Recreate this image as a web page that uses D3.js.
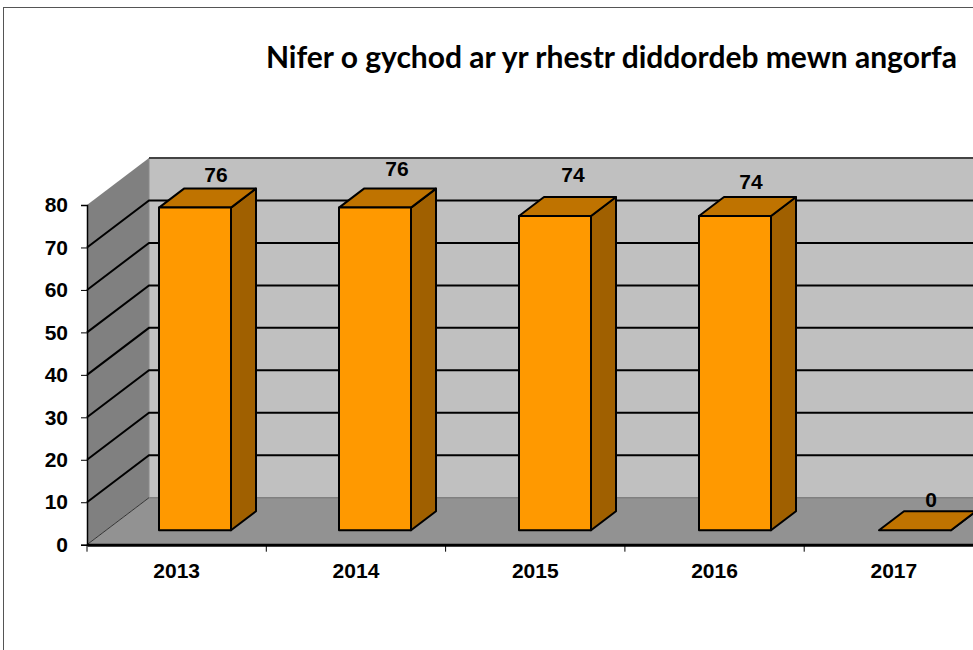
<!DOCTYPE html>
<html><head><meta charset="utf-8">
<script src="https://cdn.jsdelivr.net/npm/d3@7"></script>
<style>html,body{margin:0;padding:0;background:#fff;overflow:hidden}svg{display:block}</style></head>
<body><script>
const titleText = "Nifer o gychod ar yr rhestr diddordeb mewn angorfa";
const years = ["2013","2014","2015","2016","2017"];
const boats = [76,76,74,74,0];
const yTicks = [0,10,20,30,40,50,60,70,80];
const labelNudgeX = [0,1,-3,-5,-5];
const labelNudgeY = [1,-5,-7,0,4];

const W=973,H=650;
const svg=d3.select("body").append("svg").attr("width",W).attr("height",H);
const x=d3.scaleBand().domain(years).range([87,983.5]);
const xBar=d3.scaleBand().domain(years).range([87,987]);
const y=d3.scaleLinear().domain([0,80]).range([544.7,205]);
const wallDx=62,wallDy=-47, barOffDx=72, barW=72, barBase=-14.4, depthDx=25, depthDy=-19;
const LW="Liberation Sans, Arial, sans-serif";

svg.append("rect").attr("x",3.5).attr("y",7.5).attr("width",W+20).attr("height",H+20).attr("fill","#fff").attr("stroke","#555").attr("stroke-width",1);
svg.append("text").attr("x",611.5).attr("y",68).attr("text-anchor","middle").attr("font-family","Lato, Carlito, sans-serif").attr("font-weight",700).attr("font-size",30).attr("fill","#000").text(titleText);

const x0=x.range()[0], xR=x.range()[1];
const pts=a=>a.map(p=>p.join(",")).join(" ");
// back wall
svg.append("rect").attr("x",x0+wallDx).attr("y",y(80)+wallDy).attr("width",xR-x0).attr("height",y(0)-y(80)).attr("fill","#c0c0c0");
// side wall
svg.append("polygon").attr("points",pts([[x0,y(80)],[x0+wallDx,y(80)+wallDy],[x0+wallDx,y(0)+wallDy],[x0,y(0)]])).attr("fill","#808080");
// floor
svg.append("polygon").attr("points",pts([[x0,y(0)],[x0+wallDx,y(0)+wallDy],[xR+wallDx,y(0)+wallDy],[xR,y(0)]])).attr("fill","#929292");
svg.append("line").attr("x1",x0+wallDx).attr("x2",W+5).attr("y1",y(0)+wallDy).attr("y2",y(0)+wallDy).attr("stroke","#808080").attr("stroke-width",1.5);
svg.append("line").attr("x1",x0+wallDx).attr("x2",x0+wallDx).attr("y1",y(80)+wallDy).attr("y2",y(0)+wallDy).attr("stroke","#8a8a8a").attr("stroke-width",1);
// gridlines
yTicks.filter(t=>t>0&&t<80).forEach(t=>{
  svg.append("polyline").attr("points",pts([[x0,y(t)],[x0+wallDx,y(t)+wallDy],[W+5,y(t)+wallDy]])).attr("fill","none").attr("stroke","#000").attr("stroke-width",2);
});
svg.append("line").attr("x1",x0+wallDx).attr("x2",W+5).attr("y1",y(80)+wallDy).attr("y2",y(80)+wallDy).attr("stroke","#444").attr("stroke-width",2);
svg.append("line").attr("x1",x0).attr("y1",y(0)).attr("x2",x0+wallDx).attr("y2",y(0)+wallDy).attr("stroke","#333").attr("stroke-width",1);

// bars
const barG=svg.append("g").attr("stroke","#000").attr("stroke-width",2).attr("stroke-linejoin","round");
years.forEach((yr,i)=>{
  const v=boats[i], L=xBar(yr)+barOffDx, R=L+barW, B=y(0)+barBase, T=y(v)+barBase;
  barG.append("polygon").attr("points",pts([[R,T],[R+depthDx,T+depthDy],[R+depthDx,B+depthDy],[R,B]])).attr("fill","#a06000");
  barG.append("polygon").attr("points",pts([[L,T],[L+depthDx,T+depthDy],[R+depthDx,T+depthDy],[R,T]])).attr("fill","#bf7300");
  if(v>0) barG.append("rect").attr("x",L).attr("y",T).attr("width",barW).attr("height",B-T).attr("fill","#ff9900");
  svg.append("text").attr("x",L+barW/2+depthDx-4+labelNudgeX[i]).attr("y",T+depthDy-8+labelNudgeY[i]).attr("text-anchor","middle").attr("font-family",LW).attr("font-weight",700).attr("font-size",21).attr("fill","#000").text(v);
});

// axes
const yAxis=d3.axisLeft(y).tickValues(yTicks).tickSize(6).tickPadding(13).tickFormat(d3.format("d"));
const gy=svg.append("g").attr("transform",`translate(${x0},0)`).call(yAxis);
const xAxis=d3.axisBottom(x).tickSize(0).tickPadding(18);
const gx=svg.append("g").attr("transform",`translate(0,${y(0)})`).call(xAxis);
gx.selectAll(".tick text").attr("dy","0.71em");
const edges=years.map(d=>x(d));
gx.selectAll("line.edge").data(edges).enter().append("line").attr("class","edge").attr("x1",d=>d).attr("x2",d=>d).attr("y1",0).attr("y2",7).attr("stroke","#000");
gy.select(".domain").attr("stroke","#000").attr("stroke-width",1.5);
gx.select(".domain").attr("stroke","#000").attr("stroke-width",3);
[gy,gx].forEach(g=>g.selectAll("text").attr("font-family",LW).attr("font-weight",700).attr("font-size",21).attr("fill","#000"));
</script></body></html>
